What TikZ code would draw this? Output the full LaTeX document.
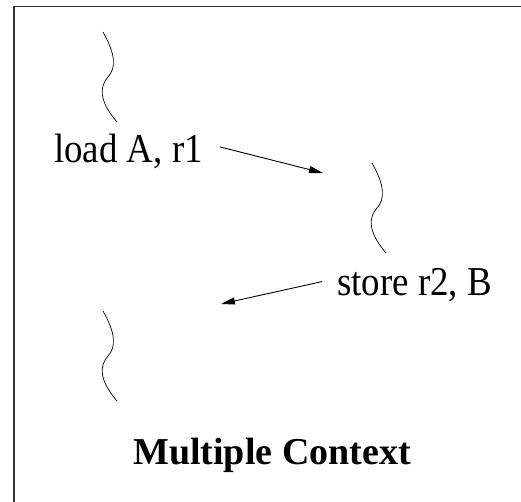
\documentclass[tikz,border=0pt]{standalone}
\usepackage{fontspec}
\setmainfont{Liberation Serif}
\newfontfamily\narrowserif[FakeStretch=0.9]{Liberation Serif}
\usetikzlibrary{arrows.meta}

\tikzset{
  frameline/.style={draw=black!80, line width=1.3pt},
  label/.style={inner sep=0pt, font=\narrowserif\fontsize{41}{48}\selectfont},
  title/.style={inner sep=0pt, font=\fontsize{38}{45}\selectfont\bfseries},
  flow/.style={-{Triangle[length=14pt,width=7pt]}, line width=0.9pt},
  squiggle/.pic={
    \draw[line width=0.7pt] (0,0) .. controls (13,23) and (13,36) .. (5,45)
      .. controls (-3,54) and (-5,68) .. (14,90);
  }
}

\begin{document}
\begin{tikzpicture}[x=1pt,y=-1pt]
        \useasboundingbox (0,0) rectangle (521,502);

        % Frame (top and left edges only)
        \draw[frameline] (521,6.5) -- (14,6.5) -- (14,502);

        % Thread squiggles
        \pic at (103,32) {squiggle};
        \pic at (372,163) {squiggle};
        \pic at (103,311) {squiggle};

        % Instructions
        \node (load) [label, anchor=base west] at (54,163) {load A, r1};
        \node (store) [label, anchor=base west] at (337,295) {store r2, B};
        \coordinate (lt) at (323,173);
        \coordinate (st) at (221,304);

        % Arrows
        \draw[flow] (load.east) ++(17,-5) coordinate (lf) (lf) -- (lt);
        \draw[flow] (store.west) ++(-15,-3) coordinate (sf) (sf) -- (st);

        % Title
        \node (title) [title, anchor=base] at (272,464) {Multiple Context};
\end{tikzpicture}
\end{document}
